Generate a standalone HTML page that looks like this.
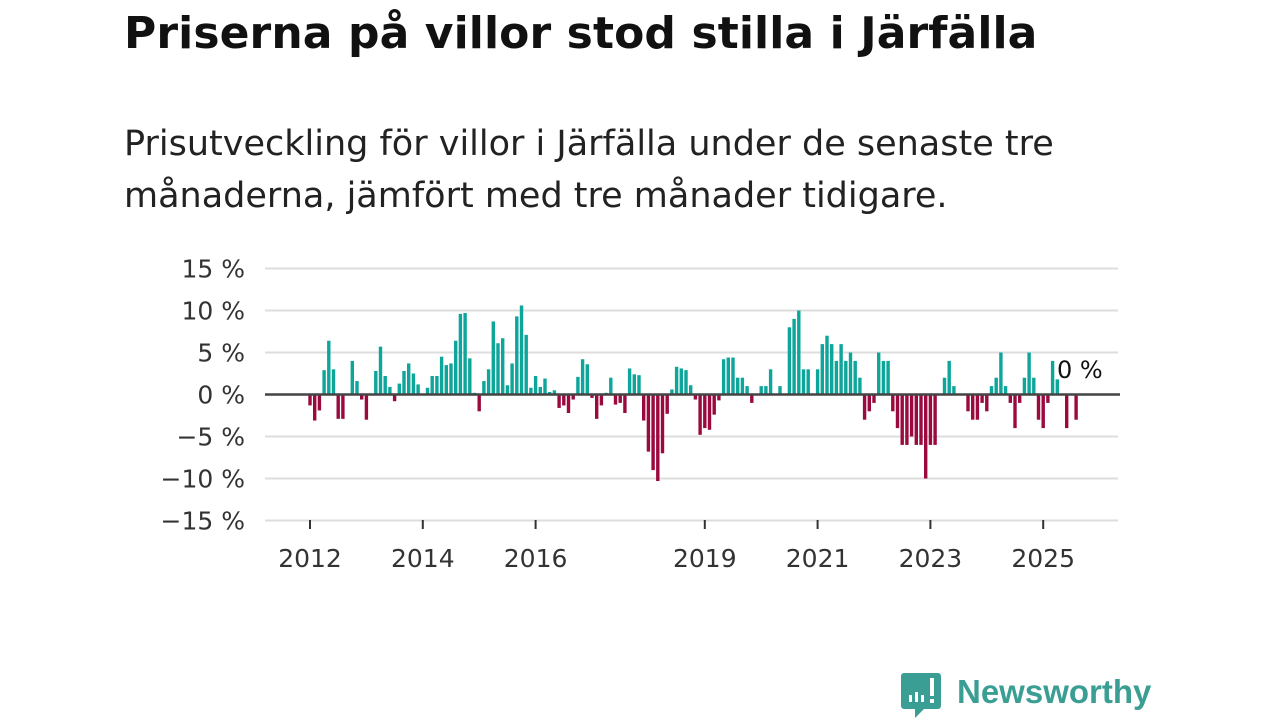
<!DOCTYPE html>
<html><head><meta charset="utf-8"><style>
body{margin:0;width:1280px;height:720px;background:#fff;overflow:hidden;font-family:"Liberation Sans","DejaVu Sans",sans-serif;}
#title{position:absolute;left:124px;top:8px;font-size:44px;font-weight:bold;color:#111;letter-spacing:0.1px;font-family:"DejaVu Sans","Liberation Sans",sans-serif;}
#sub{position:absolute;left:124px;top:118px;font-size:35px;line-height:52px;color:#222;font-family:"DejaVu Sans","Liberation Sans",sans-serif;letter-spacing:0px;}
svg{position:absolute;left:0;top:0;}
</style></head><body>
<div id="title">Priserna på villor stod stilla i Järfälla</div>
<div id="sub">Prisutveckling för villor i Järfälla under de senaste tre<br>månaderna, jämfört med tre månader tidigare.</div>
<svg id="chart" width="1280" height="720"></svg>
<svg width="1280" height="720">
<path d="M904 673 h34 a3 3 0 0 1 3 3 v30 a3 3 0 0 1 -3 3 h-14 l-9 9 v-9 h-11 a3 3 0 0 1 -3 -3 v-30 a3 3 0 0 1 3 -3z" fill="#3a9e94"/>
<rect x="909" y="695" width="3" height="7" fill="#fff"/><rect x="915" y="692" width="3" height="10" fill="#fff"/><rect x="921" y="695" width="3" height="7" fill="#fff"/><rect x="930" y="678" width="4" height="18" fill="#fff"/><rect x="930" y="699" width="4" height="4" fill="#fff"/>
<text x="957" y="703" font-size="33" font-family="Liberation Sans, sans-serif" fill="#3a9e94" font-weight="bold">Newsworthy</text>
</svg>
<script>
const values=[-1.3,-3.1,-1.9,2.9,6.4,3.0,-2.9,-2.9,0,4.0,1.6,-0.6,-3.0,0,2.8,5.7,2.2,0.9,-0.8,1.3,2.8,3.7,2.5,1.2,0,0.8,2.2,2.2,4.5,3.5,3.7,6.4,9.6,9.7,4.3,0.2,-2.0,1.6,3.0,8.7,6.1,6.7,1.1,3.7,9.3,10.6,7.1,0.8,2.2,0.9,1.9,0.3,0.5,-1.6,-1.3,-2.2,-0.6,2.1,4.2,3.6,-0.4,-2.9,-1.3,0.2,2.0,-1.2,-1.0,-2.2,3.1,2.4,2.3,-3.1,-6.8,-9.0,-10.3,-7.0,-2.3,0.6,3.3,3.1,2.9,1.1,-0.6,-4.8,-4.0,-4.2,-2.4,-0.7,4.2,4.4,4.4,2.0,2.0,1.0,-1.0,0,1.0,1.0,3.0,0,1.0,0,8.0,9.0,10.0,3.0,3.0,0,3.0,6.0,7.0,6.0,4.0,6.0,4.0,5.0,4.0,2.0,-3.0,-2.0,-1.0,5.0,4.0,4.0,-2.0,-4.0,-6.0,-6.0,-5.0,-6.0,-6.0,-10.0,-6.0,-6.0,0,2.0,4.0,1.0,0,0,-2.0,-3.0,-3.0,-1.0,-2.0,1.0,2.0,5.0,1.0,-1.0,-4.0,-1.0,2.0,5.0,2.0,-3.0,-4.0,-1.0,4.0,1.8,0,-4.0,0,-3.0,0];
const yTicks=[15,10,5,0,-5,-10,-15];
const yTickLabels=["15 %","10 %","5 %","0 %","−5 %","−10 %","−15 %"];
const xYears=[2012,2014,2016,2019,2021,2023,2025];
const lastLabel="0 %";
const NS="http://www.w3.org/2000/svg";
const svg=document.getElementById('chart');
const y=v=>394.5-v*8.4;
const xm=i=>310+i*4.7;
const xy=yr=>xm((yr-2012)*12);
function el(t,a){const e=document.createElementNS(NS,t);for(const k in a)e.setAttribute(k,a[k]);svg.appendChild(e);return e;}
yTicks.forEach((t,k)=>{
 if(t!==0){const l=el('line',{x1:265,x2:1118,y1:y(t),y2:y(t),stroke:'#ddd','stroke-width':2});
 
 }
 const tx=el('text',{x:245,y:y(t)+9,'text-anchor':'end','font-size':25,fill:'#333','font-family':'DejaVu Sans, sans-serif'});
 tx.textContent=yTickLabels[k];
 
 
});
xYears.forEach(yr=>{
 const x=xy(yr);
 const l=el('line',{x1:x,x2:x,y1:520,y2:529,stroke:'#333','stroke-width':2});
 
 
 const t=el('text',{x:x,y:567,'text-anchor':'middle','font-size':25,fill:'#333','font-family':'DejaVu Sans, sans-serif'});
 t.textContent=yr;
 
 
});
values.forEach((v,i)=>{
 if(v===0)return;
 const r=el('rect',{x:xm(i)-1.7,width:3.4,y:Math.min(y(v),y(0)),height:Math.abs(y(v)-y(0)),fill:v>0?'#0ea59a':'#9b0a3f'});
 
 
});
const z=el('line',{x1:265,x2:1120,y1:y(0),y2:y(0),stroke:'#444','stroke-width':2.5});


const lb=el('text',{x:1057,y:378,'font-size':24,fill:'#111','font-family':'DejaVu Sans, sans-serif'});
lb.textContent=lastLabel;


</script>
</body></html>
